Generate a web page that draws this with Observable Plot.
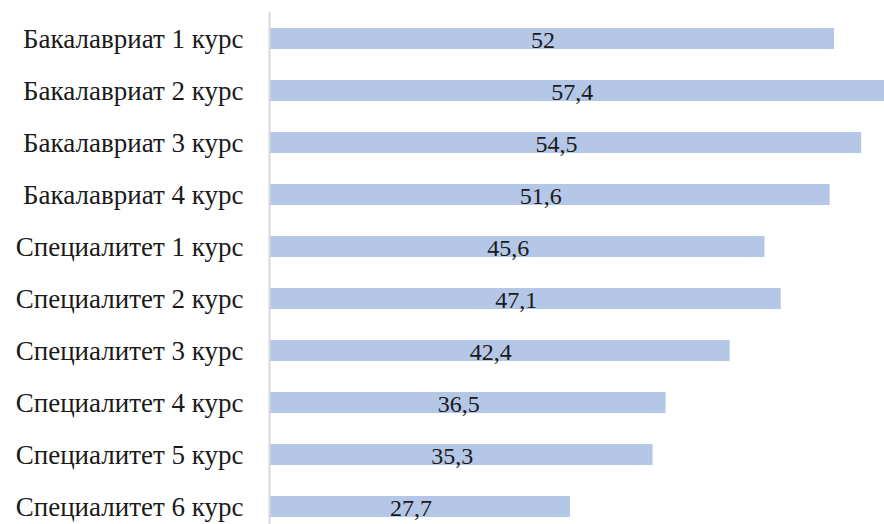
<!DOCTYPE html>
<html>
<head>
<meta charset="utf-8">
<script src="https://cdn.jsdelivr.net/npm/d3@7"></script>
<script src="https://cdn.jsdelivr.net/npm/@observablehq/plot@0.6"></script>
<style>
  html, body { margin: 0; padding: 0; background: #fff; overflow: hidden; }
  #chart svg { display: block; }
  #chart svg text { font-family: 'Liberation Serif', 'Times New Roman', serif !important; }
  #chart svg g[aria-label="y-axis tick label"] text { font-size: 27px !important; }
  #chart svg g[aria-label="text"] text { font-size: 24px !important; }
</style>
</head>
<body>
<div id="chart"></div>
<script>
const categories = [
  "Бакалавриат 1 курс",
  "Бакалавриат 2 курс",
  "Бакалавриат 3 курс",
  "Бакалавриат 4 курс",
  "Специалитет 1 курс",
  "Специалитет 2 курс",
  "Специалитет 3 курс",
  "Специалитет 4 курс",
  "Специалитет 5 курс",
  "Специалитет 6 курс"
];
const values = [52, 57.4, 54.5, 51.6, 45.6, 47.1, 42.4, 36.5, 35.3, 27.7];

const data = categories.map((c, i) => ({category: c, value: values[i]}));
const fmt = v => String(v).replace(".", ",");
const maxV = d3.max(values);

const chart = Plot.plot({
  width: 884,
  height: 524,
  marginTop: 12,
  marginBottom: 0,
  marginLeft: 269,
  marginRight: 0,
  style: {background: "#fff", fontFamily: "'Liberation Serif', 'Times New Roman', serif", color: "#1a1a1a"},
  x: {domain: [0, maxV], range: [269, 269 + maxV * 10.865], axis: null},
  y: {domain: categories, range: [12.5, 532.5], paddingInner: 0.596, paddingOuter: 0.298, label: null},
  marks: [
    Plot.barX(data, {y: "category", x: "value", fill: "#b4c7e7"}),
    Plot.ruleX([0], {stroke: "#d9d9d9", strokeWidth: 2}),
    Plot.axisY({tickSize: 0, tickPadding: 26, fontSize: 27, fill: "#1a1a1a", label: null}),
    Plot.text(data, {y: "category", x: d => d.value / 2, text: d => fmt(d.value), dx: -9, dy: 1, fontSize: 24, fill: "#1a1a1a"})
  ]
});
document.getElementById("chart").appendChild(chart);
</script>
</body>
</html>
